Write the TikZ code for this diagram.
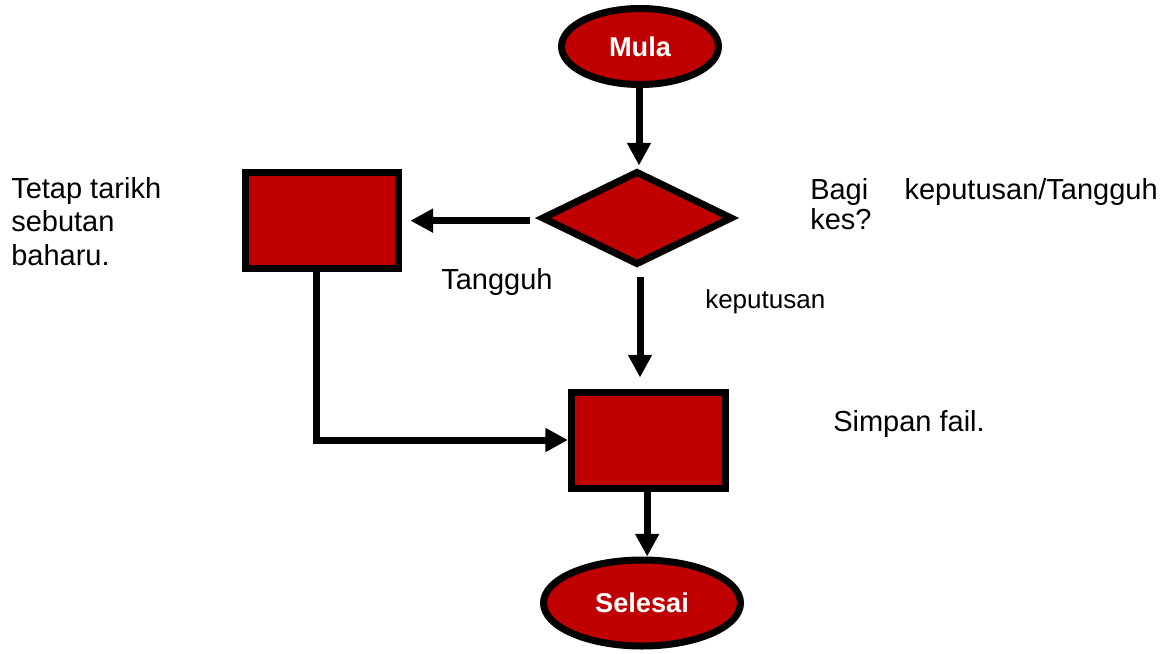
\documentclass[tikz,border=0pt]{standalone}
\usepackage{fontspec}
\setmainfont{Liberation Sans}
\usetikzlibrary{shapes.geometric,arrows.meta}
\definecolor{boxred}{HTML}{C00000}
\begin{document}
\begin{tikzpicture}[x=0.75pt,y=-0.75pt,
  shapebox/.style={draw=black,fill=boxred,line width=5.25pt,inner sep=0pt,minimum width=153*0.75pt,minimum height=96*0.75pt},
  term/.style={ellipse,draw=black,fill=boxred,line width=5.25pt,inner sep=0pt,text=white,font=\fontsize{20.4}{23}\selectfont\bfseries},
  dec/.style={diamond,draw=black,fill=boxred,line width=5.25pt,inner sep=0pt,aspect=2.1,minimum width=191*0.75pt,minimum height=94*0.75pt},
  conn/.style={line width=5.25pt,-{Triangle[length=17pt,width=17pt]}},
  lbl/.style={anchor=base west,inner sep=0pt,font=\fontsize{21.75}{25}\selectfont},
  lblsmall/.style={anchor=base west,inner sep=0pt,font=\fontsize{19.5}{22}\selectfont}]
\useasboundingbox (0,0) rectangle (1169,653);
% nodes
\node[term,minimum width=157*0.75pt,minimum height=76*0.75pt] (mula) at (640,46.5) {Mula};
\node[dec] (d) at (637,218) {};
\node[shapebox] (r1) at (322,220) {};
\node[shapebox,minimum width=154*0.75pt] (r2) at (648.5,440) {};
\node[term,minimum width=197*0.75pt,minimum height=86*0.75pt] (sel) at (642,603) {Selesai};
% connectors
\draw[conn,shorten >=1.5pt] ([xshift=-0.75pt]mula.south) -- ([xshift=-0.75pt]mula.south |- d.north);
\draw[conn,shorten <=6pt,shorten >=6.25pt] ([yshift=-2pt]d.west) -- ([yshift=-2pt]d.west -| r1.east);
\draw[conn,shorten <=6pt,shorten >=8.25pt] ([xshift=2.25pt]d.south) -- ([xshift=2.25pt]d.south |- r2.north);
\draw[conn] ([xshift=-4.5pt]r1.south) |- (r2.west);
\draw[conn] ([xshift=-1pt]r2.south) -- ([xshift=-1pt]r2.south |- sel.north);
% labels
\node[lbl] (t1) at (11,198) {Tetap tarikh};
\node[lbl] (t2) at (11,231.5) {sebutan};
\node[lbl] (t3) at (11,265) {baharu.};
\node[lbl] (tg) at (441,289) {Tangguh};
\node[lblsmall] (kp) at (705,308) {keputusan};
\node[lbl] (bg1) at (810,199) {Bagi};
\node[lbl,anchor=base east] (bg2) at (1158,199) {keputusan/Tangguh};
\node[lbl] (bg3) at (810,229) {kes?};
\node[lbl] (sf) at (833,431.5) {Simpan fail.};
\end{tikzpicture}
\end{document}
